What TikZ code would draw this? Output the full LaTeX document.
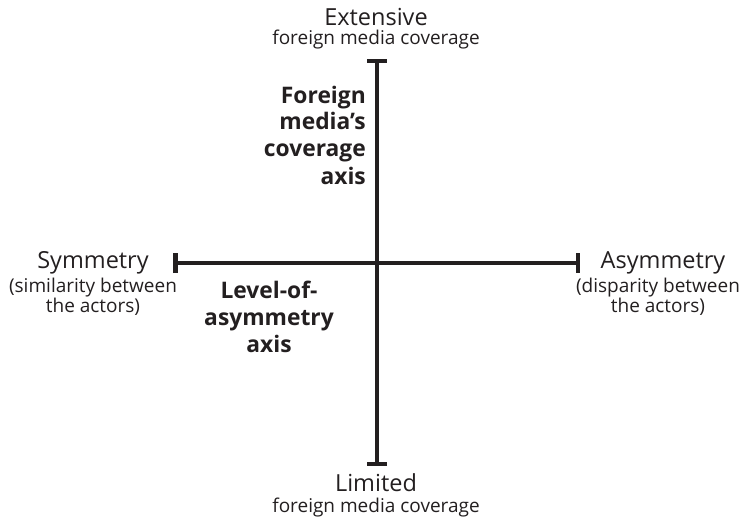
\documentclass[tikz,border=0pt]{standalone}
\usepackage{fontspec}
\setmainfont{Open Sans}
\usetikzlibrary{arrows.meta}
\definecolor{ink}{HTML}{231F20}
\tikzset{
  axisline/.style={line width=4.5pt, draw=ink, {Bar[width=20pt,line width=4.5pt]}-{Bar[width=20pt,line width=4.5pt]}},
  pole/.style={anchor=base, text=ink, inner sep=0pt, font=\fontsize{23.5}{28}\selectfont},
  poledesc/.style={anchor=base, text=ink, inner sep=0pt, font=\fontsize{19}{22}\selectfont},
  axislabel/.style={anchor=base, text=ink, inner sep=0pt, font=\bfseries\fontsize{22.8}{27}\selectfont},
}
\begin{document}
\begin{tikzpicture}[x=1pt,y=-1pt]
\useasboundingbox (0,0) rectangle (740,519);

% axis end points
\coordinate (top) at (377,59);
\coordinate (bottom) at (377,466);
\coordinate (left) at (173,263);
\coordinate (right) at (580,263);

\draw[axisline] (top) -- (bottom);
\draw[axisline] (left) -- (right);

% vertical axis poles
\node[pole] (ext) at (376,26) {Extensive};
\node[poledesc] (extd) at (376,45) {foreign media coverage};
\node[pole] (lim) at (376,491) {Limited};
\node[poledesc] (limd) at (376,512) {foreign media coverage};

% horizontal axis poles
\node[pole] (sym) at (93,268) {Symmetry};
\node[poledesc] (symd1) at (93,292) {(similarity between};
\node[poledesc] (symd2) at (93,312) {the actors)};
\node[pole] (asym) at (663,268) {Asymmetry};
\node[poledesc] (asymd1) at (658,292) {(disparity between};
\node[poledesc] (asymd2) at (658,312) {the actors)};

% axis names
\node[axislabel, anchor=base east] (fa1) at (366,103) {Foreign};
\node[axislabel, anchor=base east] (fa2) at (366,130) {media’s};
\node[axislabel, anchor=base east] (fa3) at (366,157) {coverage};
\node[axislabel, anchor=base east] (fa4) at (366,184) {axis};

\node[axislabel] (la1) at (269,298) {Level-of-};
\node[axislabel] (la2) at (269,325) {asymmetry};
\node[axislabel] (la3) at (269,352) {axis};
\end{tikzpicture}
\end{document}
